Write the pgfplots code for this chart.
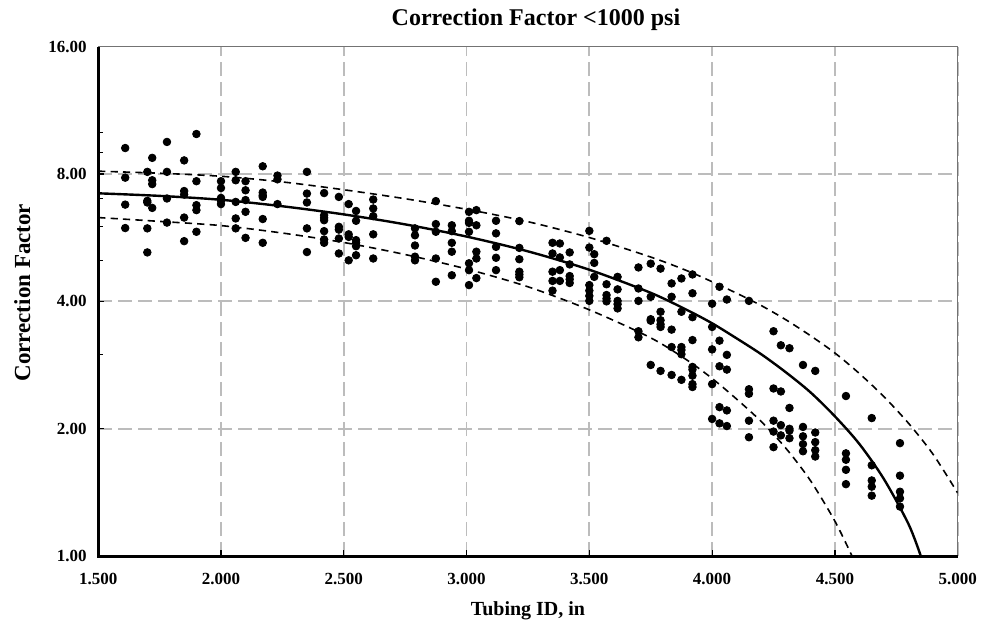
\documentclass[border=0pt]{standalone}
\usepackage{fontspec}
\setmainfont{Liberation Serif}
\usepackage{pgfplots}
\usepackage{pgfplotstable}
\pgfplotsset{compat=1.18}
\definecolor{gridgray}{RGB}{188,188,188}
\definecolor{framegray}{RGB}{115,115,115}

% measured points: tubing ID (in), correction factor
\pgfplotstableread{
x y
1.61 9.21
1.61 7.84
1.61 6.77
1.61 5.96
1.70 8.09
1.70 6.91
1.70 6.85
1.70 5.95
1.70 5.22
1.72 8.73
1.72 7.73
1.72 7.57
1.72 6.65
1.78 9.52
1.78 8.09
1.78 7.00
1.78 6.14
1.85 8.61
1.85 7.29
1.85 7.15
1.85 6.31
1.85 5.55
1.90 9.94
1.90 7.69
1.90 6.75
1.90 6.57
1.90 5.84
2.00 7.69
2.00 7.41
2.00 7.02
2.00 6.91
2.00 6.79
2.06 8.09
2.06 7.73
2.06 6.87
2.06 6.28
2.06 5.95
2.10 7.69
2.10 7.32
2.10 6.94
2.10 6.51
2.10 5.65
2.17 8.34
2.17 7.23
2.17 7.12
2.17 7.06
2.17 6.26
2.17 5.50
2.23 7.93
2.23 7.77
2.23 6.79
2.35 8.09
2.35 7.19
2.35 6.85
2.35 5.95
2.35 5.23
2.42 7.21
2.42 6.39
2.42 6.30
2.42 6.22
2.42 5.86
2.42 5.60
2.42 5.50
2.48 7.06
2.48 6.00
2.48 5.91
2.48 5.63
2.48 5.19
2.52 6.79
2.52 5.76
2.52 5.68
2.52 5.00
2.55 6.54
2.55 6.20
2.55 5.58
2.55 5.50
2.55 5.40
2.55 5.14
2.62 6.96
2.62 6.63
2.62 6.36
2.62 5.76
2.62 5.05
2.79 5.95
2.79 5.73
2.79 5.42
2.79 5.10
2.79 5.00
2.875 6.90
2.875 6.09
2.875 5.84
2.875 5.05
2.875 4.45
2.94 6.05
2.94 5.86
2.94 5.50
2.94 5.24
2.94 4.61
3.01 6.51
3.01 6.20
3.01 6.13
3.01 5.84
3.01 4.92
3.01 4.74
3.01 4.37
3.04 6.57
3.04 6.05
3.04 5.24
3.04 5.05
3.04 4.54
3.12 6.20
3.12 5.79
3.12 5.38
3.12 5.07
3.12 4.74
3.215 6.19
3.215 5.35
3.215 5.03
3.215 4.70
3.215 4.63
3.215 4.56
3.35 5.50
3.35 5.19
3.35 4.70
3.35 4.47
3.35 4.24
3.38 5.48
3.38 5.08
3.38 4.74
3.38 4.47
3.42 5.22
3.42 4.89
3.42 4.59
3.42 4.51
3.42 4.42
3.50 5.87
3.50 5.36
3.50 4.37
3.50 4.24
3.50 4.12
3.50 4.01
3.52 5.17
3.52 4.93
3.52 4.57
3.57 5.56
3.57 4.39
3.57 4.14
3.57 4.06
3.57 4.00
3.615 4.57
3.615 4.27
3.615 4.01
3.615 3.94
3.615 3.85
3.70 4.81
3.70 4.29
3.70 4.01
3.70 3.40
3.70 3.29
3.75 4.91
3.75 4.10
3.75 3.63
3.75 3.60
3.75 2.83
3.79 4.78
3.79 3.78
3.79 3.61
3.79 3.53
3.79 3.48
3.79 2.74
3.835 4.41
3.835 4.10
3.835 3.43
3.835 3.12
3.835 2.68
3.875 4.53
3.875 3.78
3.875 3.12
3.875 3.07
3.875 3.00
3.875 2.61
3.92 4.63
3.92 4.18
3.92 3.67
3.92 3.24
3.92 2.80
3.92 2.76
3.92 2.67
3.92 2.55
3.92 2.51
4.00 3.95
4.00 3.48
4.00 3.08
4.00 2.55
4.00 2.11
4.03 4.33
4.03 3.23
4.03 2.81
4.03 2.25
4.03 2.06
4.06 4.04
4.06 2.99
4.06 2.76
4.06 2.21
4.06 2.03
4.15 4.01
4.15 2.48
4.15 2.42
4.15 2.09
4.15 1.91
4.25 3.40
4.25 2.49
4.25 2.09
4.25 1.97
4.25 1.81
4.28 3.15
4.28 2.45
4.28 2.04
4.28 1.93
4.315 3.10
4.315 2.24
4.315 2.00
4.315 1.98
4.315 1.90
4.37 2.83
4.37 2.02
4.37 1.92
4.37 1.84
4.37 1.77
4.42 2.74
4.42 1.96
4.42 1.86
4.42 1.78
4.42 1.72
4.545 2.39
4.545 1.75
4.545 1.69
4.545 1.60
4.545 1.48
4.65 2.12
4.65 1.64
4.65 1.51
4.65 1.46
4.65 1.39
4.765 1.85
4.765 1.55
4.765 1.42
4.765 1.37
4.765 1.31
}\measured

\begin{document}
\begin{tikzpicture}
% page frame: axis box is placed with its lower left corner at (0,0)
\path[use as bounding box] (-49.1pt,-33.4pt) rectangle (446.9pt,278.1pt);
\begin{axis}[
    scale only axis,
    width=429.75pt, height=254.85pt,
    xmin=1.5, xmax=5.0,
    ymin=1, ymax=16,
    ymode=log,
    xtick={1.5,2.0,2.5,3.0,3.5,4.0,4.5,5.0},
    xticklabels={1.500,2.000,2.500,3.000,3.500,4.000,4.500,5.000},
    ytick={1,2,4,8,16},
    yticklabels={1.00,2.00,4.00,8.00,16.00},
    minor ytick={},
    extra y ticks={3,5,6,7,9,10},
    extra y tick labels={},
    extra y tick style={grid=none, major tick length=2.5pt},
    tick pos=left,
    grid=major,
    major grid style={gridgray, line width=0.9pt, dash pattern=on 7pt off 3pt},
    axis line style={framegray, line width=0.65pt},
    tick style={black, line width=0.6pt},
    major tick length=3pt,
    tick align=inside,
    /pgf/number format/assume math mode=true,
    ticklabel style={font=\bfseries\fontsize{8.5}{10}\selectfont},
    xticklabel style={anchor=base, yshift=-14pt},
    yticklabel style={anchor=east, xshift=-2.2pt},
    title={Correction Factor <1000 psi},
    title style={font=\bfseries\fontsize{12}{14}\selectfont,
        at={(axis description cs:0.5,1)}, anchor=base, yshift=4.3pt, xshift=4pt},
    xlabel={Tubing ID, in},
    xlabel style={font=\bfseries\fontsize{10}{12}\selectfont,
        at={(axis description cs:0.5,0)}, anchor=base, yshift=-29.5pt},
    ylabel={Correction Factor},
    ylabel style={font=\bfseries\fontsize{11.5}{13}\selectfont,
        at={(axis description cs:-0.0884,0.517)}, anchor=center},
]
\addplot[only marks, mark=*, mark size=1.9pt, black] table {\measured};

% fitted curve
\addplot[black, line width=1.2pt, smooth] coordinates {
    (1.50,7.20) (1.75,7.10) (2.00,6.95) (2.25,6.71) (2.50,6.42)
    (2.75,6.08) (3.00,5.69) (3.25,5.25) (3.50,4.75) (3.75,4.19)
    (3.90,3.81) (4.00,3.55) (4.10,3.27) (4.20,3.00) (4.30,2.72)
    (4.40,2.44) (4.50,2.14) (4.60,1.84) (4.70,1.52) (4.80,1.19) (4.85,1.00)
};
% upper bound
\addplot[black, line width=0.8pt, dash pattern=on 3.6pt off 2.6pt, smooth] coordinates {
    (1.50,8.12) (1.75,8.03) (2.00,7.90) (2.25,7.66) (2.50,7.34)
    (2.75,6.99) (3.00,6.60) (3.25,6.17) (3.50,5.66) (3.75,5.09)
    (3.90,4.72) (4.00,4.45) (4.10,4.18) (4.20,3.91) (4.30,3.62)
    (4.40,3.32) (4.50,3.02) (4.60,2.70) (4.70,2.38) (4.80,2.06)
    (4.90,1.74) (5.00,1.41)
};
% lower bound
\addplot[black, line width=0.8pt, dash pattern=on 3.6pt off 2.6pt, smooth] coordinates {
    (1.50,6.31) (1.75,6.18) (2.00,6.04) (2.25,5.80) (2.50,5.51)
    (2.75,5.16) (3.00,4.77) (3.25,4.33) (3.50,3.82) (3.75,3.28)
    (3.90,2.90) (4.00,2.63) (4.10,2.35) (4.20,2.08) (4.30,1.80)
    (4.40,1.51) (4.50,1.21) (4.57,1.00)
};
\end{axis}
\draw[line width=1.3pt] (current axis.north west) -- (current axis.south west) -- (current axis.south east);
\end{tikzpicture}
\end{document}
